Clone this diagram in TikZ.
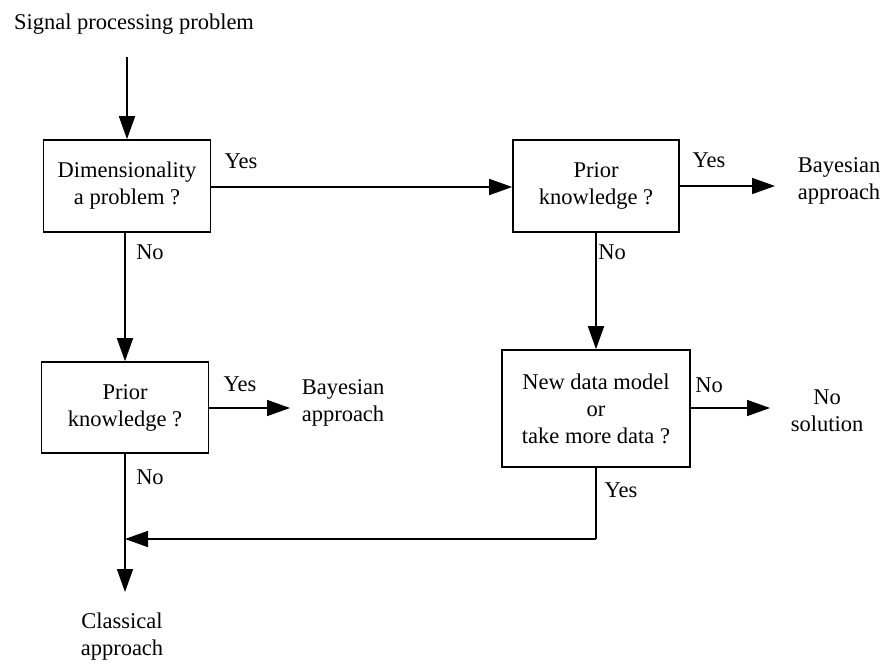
\documentclass[tikz,border=0pt]{standalone}
\usepackage{fontspec}
\setmainfont{Liberation Serif}
\usetikzlibrary{arrows.meta}
\begin{document}
\begin{tikzpicture}[x=1pt,y=-1pt,
  every node/.style={font=\fontsize{22.5}{27}\selectfont, align=center, inner sep=0pt},
  box/.style={draw, line width=1.6pt, minimum width=167pt},
  arr/.style={line width=1.6pt, -{Triangle[length=23pt,width=16pt]}},
  ln/.style={line width=1.6pt}]
\useasboundingbox (0,0) rectangle (886,664);
\node (title) at (134,24) {Signal processing problem};
\coordinate (t0) at (127,57);
\node[box, minimum height=92pt] (b1) at (127,186) {Dimensionality\\a problem ?};
\node[box, minimum width=166pt, minimum height=92pt] (b2) at (596,186) {Prior\\knowledge ?};
\node[box, minimum height=91pt] (b4) at (125,407.5) {Prior\\knowledge ?};
\node[box, minimum width=188pt, minimum height=117pt] (b3) at (596,408.5) {New data model\\or\\take more data ?};
\node (bay1) at (839,181) {Bayesian\\approach};
\node (bay2) at (343,403) {Bayesian\\approach};
\node (nosol) at (827,411) {No\\solution};
\node (cls) at (122,637) {Classical\\approach};
\coordinate (e1) at (775,186);
\coordinate (e2) at (290,408);
\coordinate (e3) at (770,408);
\coordinate (e4) at (125,592);
\coordinate (j) at (125,539);
\coordinate (c3) at (596,539);
\draw[arr] (t0) -- (b1.north);
\draw[arr] (b1.east |- 0,187) -- (b2.west |- 0,187);
\draw[arr] (b2.east) -- (e1);
\draw[arr] (b2.south) -- (b3.north);
\draw[arr] (b3.east |- e3) -- (e3);
\draw[arr] (b1.south -| b4.north) -- (b4.north);
\draw[arr] (b4.east |- e2) -- (e2);
\draw[ln] (b4.south) -- (j);
\draw[arr] (j) -- (e4);
\draw[ln] (b3.south) -- (c3);
\draw[arr] (c3) -- (j);
\node (y1) at (241,161) {Yes};
\node (y2) at (709,160) {Yes};
\node (n1) at (150,252) {No};
\node (n2) at (612,252) {No};
\node (y3) at (240,384) {Yes};
\node (n3) at (709,385) {No};
\node (n4) at (150,477) {No};
\node (y4) at (621,490) {Yes};
\end{tikzpicture}
\end{document}
